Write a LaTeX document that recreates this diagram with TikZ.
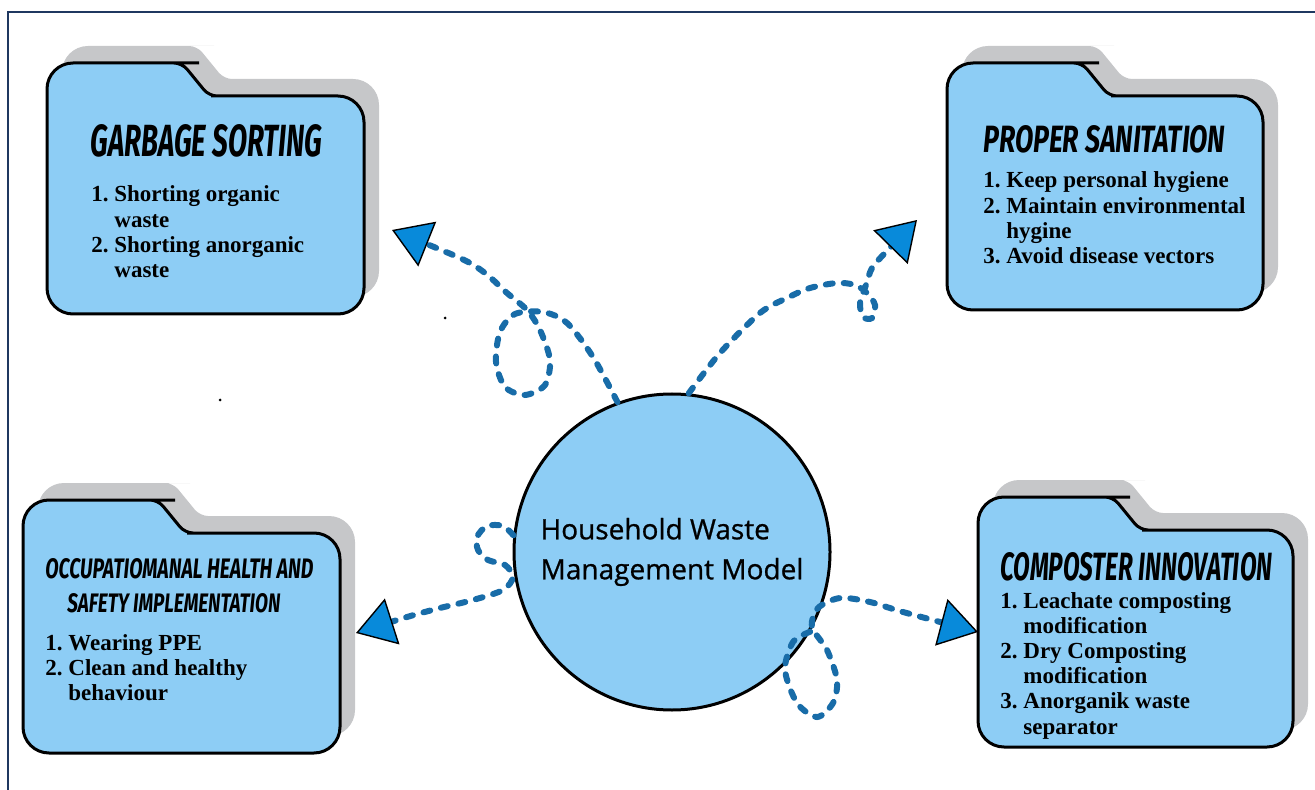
\documentclass[tikz,border=0pt]{standalone}
\usepackage{fontspec}
\usepackage{graphicx}
\setmainfont{Liberation Serif}
\newfontfamily\titlefont{Fira Sans}
\newfontfamily\hubfont{Open Sans}[FakeBold=0.8]
\usetikzlibrary{positioning,arrows.meta}

\definecolor{folderblue}{RGB}{141,205,245}
\definecolor{shadowgray}{RGB}{198,199,201}
\definecolor{dashblue}{RGB}{24,108,168}
\definecolor{tipblue}{RGB}{8,138,218}
\definecolor{framenavy}{RGB}{31,56,96}

% folder outline: left, top, right, bottom (in px)
\newcommand\folderpath[4]{(#1,{-0.5*(#2+#4)}) [rounded corners=13pt] -- (#1,-#2) -- ({#1+126},-#2)
  [rounded corners=4pt] -- ({#1+135},-#2) -- ({#1+162},{-#2-33}) -- ({#1+172},{-#2-33})
  [rounded corners=13pt] -- (#3,{-#2-33}) -- (#3,-#4) -- (#1,-#4) -- cycle}
\newcommand\ttl[3]{\resizebox{#1}{#2}{\titlefont\bfseries\itshape #3}}

\tikzset{
  folder/.style={draw=black, fill=folderblue, line width=1.5pt},
  fshadow/.style={fill=shadowgray, shift={(15,17)}},
  ttlnode/.style={anchor=base west, inner sep=0pt},
  list/.style={anchor=base west, inner sep=0pt, font=\fontsize{11.5}{12.6}\selectfont\bfseries},
  hub/.style={circle, draw=black, fill=folderblue, line width=1.5pt, minimum size=158pt,
    inner sep=0pt, align=left, font=\hubfont\fontsize{14}{20}\selectfont},
  flow/.style={draw=dashblue, line width=3pt, dash pattern=on 3.5pt off 5.5pt, line cap=round,
    -{Triangle[length=19pt,width=24pt,color=black,fill=tipblue,line width=0.7pt]}}
}

\begin{document}
\begin{tikzpicture}[x=0.5pt, y=0.5pt]
  \useasboundingbox (0,0) rectangle (1315,-790);
  \draw[framenavy, line width=1.3pt] (8,-790) -- (8,-12) -- (1315,-12);

  % folders
  \fill[fshadow] \folderpath{47}{63}{364}{314};
  \draw[folder] \folderpath{47}{63}{364}{314};
  \fill[fshadow] \folderpath{947}{63}{1263}{310};
  \draw[folder] \folderpath{947}{63}{1263}{310};
  \fill[fshadow] \folderpath{23}{500}{340}{753};
  \draw[folder] \folderpath{23}{500}{340}{753};
  \fill[fshadow] \folderpath{978}{497}{1293}{747};
  \draw[folder] \folderpath{978}{497}{1293}{747};

  \node[ttlnode] (sorting) at (90,-157) {\ttl{116pt}{16pt}{GARBAGE SORTING}};
  \node[list] (sortingList) at (91,-202) {\begin{tabular}[t]{@{}l@{\ }l@{}}
    1.&Shorting organic\\ &waste\\ 2.&Shorting anorganic\\ &waste\end{tabular}};

  \node[ttlnode] (sanitation) at (983,-153) {\ttl{121pt}{13.5pt}{PROPER SANITATION}};
  \node[list] (sanitationList) at (983,-188) {\begin{tabular}[t]{@{}l@{\ }l@{}}
    1.&Keep personal hygiene\\ 2.&Maintain environmental\\ &hygine\\ 3.&Avoid disease vectors\end{tabular}};

  \node[ttlnode] (safety) at (45,-578) {\ttl{134pt}{10pt}{OCCUPATIOMANAL HEALTH AND}};
  \node[ttlnode] (safety2) at (67,-612) {\ttl{106.5pt}{9.5pt}{SAFETY IMPLEMENTATION}};
  \node[list] (safetyList) at (45,-650) {\begin{tabular}[t]{@{}l@{\ }l@{}}
    1.&Wearing PPE\\ 2.&Clean and healthy\\ &behaviour\end{tabular}};

  \node[ttlnode] (composter) at (1000,-580) {\ttl{136pt}{14pt}{COMPOSTER INNOVATION}};
  \node[list] (composterList) at (1000,-608) {\begin{tabular}[t]{@{}l@{\ }l@{}}
    1.&Leachate composting\\ &modification\\ 2.&Dry Composting\\ &modification\\
    3.&Anorganik waste\\ &separator\end{tabular}};

  % centre
  \node[hub] (hub) at (672,-552) {Household Waste\\Management Model};

  \coordinate (tipTL) at (392,-230);
  \coordinate (tipTR) at (917,-220);
  \coordinate (tipBL) at (356,-633);
  \coordinate (tipBR) at (978,-632);

  \draw[flow] plot[smooth] coordinates {(hub.110) (593,-357) (567,-323) (543,-312) (515,-314)
    (500,-332) (496,-362) (505,-387) (525,-395) (545,-385) (550,-360) (540,-330) (527,-310)
    (507,-293) (485,-273) (460,-258) (tipTL)};
  \draw[flow] plot[smooth] coordinates {(hub.84) (720,-353) (760,-313) (787,-298) (810,-288)
    (837,-283) (855,-285) (867,-293) (875,-305) (872,-318) (863,-317) (860,-303) (866,-285)
    (872,-268) (885,-253) (tipTR)};
  \draw[flow] plot[smooth] coordinates {(hub.174) (503,-526) (487,-526) (477,-537) (478,-550)
    (488,-560) (505,-565) (513,-577) (503,-590) (473,-600) (440,-608) (407,-617) (tipBL)};
  \draw[flow] plot[smooth] coordinates {(hub.-30) (793,-642) (785,-670) (797,-703) (817,-717)
    (833,-703) (837,-680) (827,-650) (812,-627) (818,-608) (840,-598) (870,-602) (903,-612)
    (tipBR)};

  \fill (445,-318) circle (1.5);
  \fill (220,-400) circle (1.5);
\end{tikzpicture}
\end{document}
